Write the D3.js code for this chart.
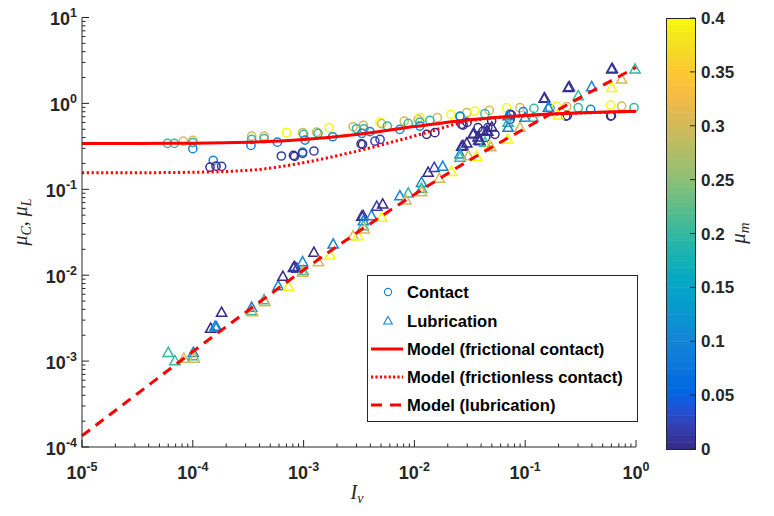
<!DOCTYPE html>
<html><head><meta charset="utf-8">
<script src="https://cdn.jsdelivr.net/npm/d3@7"></script>
<style>body{margin:0;background:#fff}svg{display:block}</style>
</head><body><svg id="c" width="774" height="516"></svg>
<script>
// ---------------- data ----------------
const contactIv = [5.9e-5,6.8e-5,8.2e-5,1.0e-4,1.0e-4,1.0e-4,1.53e-4,1.43e-4,1.62e-4,1.82e-4,
  3.4e-4,3.4e-4,3.35e-4,4.4e-4,4.4e-4,7.0e-4,5.8e-4,6.3e-4,8.1e-4,8.3e-4,
  9.8e-4,9.8e-4,1.24e-3,9.8e-4,1.0e-3,1.03e-3,1.31e-3,1.35e-3,1.7e-3,1.83e-3,
  2.8e-3,3.46e-3,3.0e-3,3.5e-3,3.35e-3,3.97e-3,3.4e-3,3.3e-3,4.4e-3,4.9e-3,
  4.9e-3,5.07e-3,5.7e-3,7.4e-3,8.1e-3,8.8e-3,1.08e-2,1.12e-2,1.12e-2,1.12e-2,
  1.29e-2,1.53e-2,1.61e-2,1.38e-2,2.14e-2,2.58e-2,2.97e-2,2.67e-2,2.75e-2,3.5e-2,
  4.74e-2,4.33e-2,2.99e-2,3.75e-2,4.16e-2,4.6e-2,4.98e-2,4.4e-2,6.8e-2,8.97e-2,
  0.12,9.6e-2,7.3e-2,7.5e-2,7.3e-2,0.1675,0.192,0.237,0.233,0.24,
  0.301,0.39,0.591,0.743,0.96,0.591,0.6,2.58e-2,5.33e-2];
const contactMu = [0.342,0.342,0.364,0.371,0.349,0.297,0.217,0.181,0.186,0.185,
  0.416,0.381,0.324,0.416,0.388,0.456,0.354,0.244,0.248,0.242,
  0.271,0.262,0.279,0.456,0.436,0.374,0.463,0.448,0.521,0.409,
  0.535,0.555,0.507,0.507,0.448,0.469,0.333,0.338,0.364,0.381,
  0.605,0.580,0.544,0.498,0.622,0.585,0.651,0.682,0.605,0.544,
  0.436,0.456,0.682,0.634,0.745,0.700,0.779,0.570,0.560,0.813,
  0.830,0.759,0.601,0.521,0.476,0.521,0.622,0.402,0.891,0.891,
  0.875,0.800,0.745,0.735,0.651,0.875,0.930,0.916,0.711,0.720,
  0.891,0.851,0.955,0.930,0.891,0.711,0.720,0.711,0.436];
const contactMum = [0.2,0.2,0.3,0.3,0.2,0.1,0.1,0,0,0.02,
  0.3,0.2,0.1,0.3,0.2,0.4,0.1,0.02,0,0.01,
  0.1,0.02,0.02,0.3,0.2,0.1,0.3,0.2,0.4,0.1,
  0.3,0.3,0.2,0.2,0.1,0.1,0,0.01,0.02,0.02,
  0.4,0.3,0.2,0.1,0.3,0.2,0.3,0.4,0.2,0.1,
  0,0,0.3,0.2,0.4,0.2,0.3,0,0.01,0.4,
  0.3,0.2,0,0,0,0.02,0,0,0.4,0.3,
  0.2,0.1,0,0.01,0,0.1,0.4,0.3,0,0.01,
  0.2,0.1,0.4,0.3,0.2,0,0.01,0.1,0];

const lubIv = [6.0e-5,6.9e-5,8.3e-5,1.01e-4,1.01e-4,1.03e-4,1.82e-4,1.45e-4,1.59e-4,1.64e-4,
  3.4e-4,3.4e-4,3.47e-4,4.4e-4,4.48e-4,5.9e-4,6.5e-4,7.3e-4,8.1e-4,8.3e-4,
  8.7e-4,9.8e-4,9.9e-4,9.8e-4,1.24e-3,1.36e-3,1.85e-3,1.73e-3,2.8e-3,3.1e-3,
  3.35e-3,3.45e-3,3.46e-3,3.46e-3,3.53e-3,4.1e-3,4.57e-3,5.18e-3,5.07e-3,7.4e-3,
  8.8e-3,8.4e-3,1.16e-2,1.16e-2,1.16e-2,1.33e-2,1.51e-2,1.8e-2,1.68e-2,2.17e-2,
  2.67e-2,2.75e-2,2.97e-2,2.58e-2,2.58e-2,3.07e-2,3.65e-2,3.9e-2,3.8e-2,4.33e-2,
  4.8e-2,4.5e-2,4.6e-2,3.38e-2,3.45e-2,4.9e-2,7.0e-2,7.0e-2,7.0e-2,6.95e-2,
  8.97e-2,9.95e-2,0.118,0.148,0.15,0.1616,0.199,0.245,0.25,0.301,
  0.398,0.603,0.61,0.603,0.743,0.98,3.75e-2,5.0e-2];
const lubMu = [1.25e-3,1.0e-3,1.07e-3,1.25e-3,1.14e-3,1.07e-3,3.66e-3,2.38e-3,2.51e-3,2.46e-3,
  4.19e-3,3.82e-3,3.72e-3,5.13e-3,4.86e-3,7.46e-3,9.6e-3,7.35e-3,1.22e-2,1.25e-2,
  1.19e-2,1.42e-2,1.12e-2,1.07e-2,1.83e-2,1.42e-2,2.28e-2,1.7e-2,2.85e-2,2.85e-2,
  4.8e-2,4.9e-2,4.26e-2,3.73e-2,3.41e-2,4.88e-2,6.27e-2,6.67e-2,4.67e-2,8.33e-2,
  8.96e-2,7.43e-2,0.119,0.1016,0.0928,0.156,0.178,0.183,0.133,0.159,
  0.313,0.320,0.342,0.255,0.233,0.243,0.240,0.364,0.370,0.349,
  0.318,0.476,0.470,0.436,0.445,0.310,0.711,0.596,0.521,0.381,
  0.521,0.682,0.682,1.135,1.15,0.891,0.725,1.52,1.55,1.216,
  1.55,2.49,2.53,1.52,1.90,2.49,0.402,0.526];
const lubMum = [0.2,0.2,0.3,0.1,0.2,0.3,0,0,0.1,0.1,
  0.1,0.2,0.3,0.2,0.3,0.1,0,0.4,0,0.01,
  0.02,0.1,0.2,0.3,0,0.3,0.1,0.4,0.3,0.4,
  0,0.01,0.1,0.2,0.3,0.1,0.02,0,0.4,0.1,
  0.2,0.3,0.1,0.2,0.3,0,0.02,0.1,0.3,0.4,
  0,0.01,0,0.1,0.2,0.3,0.4,0,0.01,0.2,
  0.4,0,0.01,0,0.01,0.3,0.1,0.2,0.1,0.4,
  0.3,0.1,0.2,0,0.01,0.1,0.4,0,0.01,0.2,
  0.1,0,0.01,0.4,0.3,0.2,0,0];

const modelIv = [1e-5,3.16e-5,1e-4,3.16e-4,1e-3,3.16e-3,1e-2,3.16e-2,0.1,0.316,1];
const modelFrictional   = [0.342,0.342,0.344,0.353,0.380,0.437,0.537,0.646,0.724,0.776,0.810];
const modelFrictionless = [0.156,0.156,0.158,0.166,0.204,0.282,0.417,0.625,0.716,0.772,0.808];
const modelLubrication  = [1.35e-4,4.17e-4,1.29e-3,3.89e-3,1.15e-2,3.24e-2,8.71e-2,0.219,0.513,1.175,2.63];

const xTickExp = [-5,-4,-3,-2,-1,0];
const yTickExp = [-4,-3,-2,-1,0,1];
const cbTicks = [0,0.05,0.1,0.15,0.2,0.25,0.3,0.35,0.4];
const cbTickLabels = ["0","0.05","0.1","0.15","0.2","0.25","0.3","0.35","0.4"];
const legendLabels = ["Contact","Lubrication","Model (frictional contact)","Model (frictionless contact)","Model (lubrication)"];

// parula colormap anchors (index out of 63)
const parulaIdx = [0,3,6,8,10,13,16,19,22,25,28,31,34,37,40,43,46,49,52,55,58,61,63];
const parulaHex = ["#352a87","#353dad","#2053d4","#0363e1","#046de0","#1079da","#1485d4","#0c93d2","#06a0cd","#07a9c2","#15b1b4","#2eb7a4","#4dbc92","#71bf80","#92bf73","#aebe67","#c8bc5d","#e1b952","#f8bb44","#fec832","#f7d826","#f5eb18","#f9fb0e"];
const parula = d3.scaleLinear().domain(parulaIdx.map(i=>i/63)).range(parulaHex).interpolate(d3.interpolateRgb).clamp(true);

// ---------------- chart ----------------
const svg = d3.select("#c");
const FONT = "'Liberation Sans', Arial, Helvetica, sans-serif";
const SERIF = "'Liberation Serif', 'Times New Roman', serif";
const axisColor = "#262626";
const x = d3.scaleLog().domain([1e-5,1]).range([82,636]);
const y = d3.scaleLog().domain([1e-4,10]).range([447,17.5]);
const cmax = 0.4;
const col = v => parula(v/cmax);

// markers
const triPath = "M0,-5.6L5.1,3.6L-5.1,3.6Z";
const gPts = svg.append("g");
contactIv.forEach((iv,i)=>{
  gPts.append("circle").attr("cx",x(iv)).attr("cy",y(contactMu[i])).attr("r",4.1)
    .attr("fill","none").attr("stroke",col(contactMum[i])).attr("stroke-width",1.5);
});
lubIv.forEach((iv,i)=>{
  gPts.append("path").attr("d",triPath).attr("transform",`translate(${x(iv)},${y(lubMu[i])})`)
    .attr("fill","none").attr("stroke",col(lubMum[i])).attr("stroke-width",1.5).attr("stroke-linejoin","miter");
});

// model lines
const line = d3.line().x(d=>x(d[0])).y(d=>y(d[1])).curve(d3.curveMonotoneX);
const red = "#ff0000";
svg.append("path").attr("d",line(modelIv.map((v,i)=>[v,modelFrictional[i]])))
  .attr("fill","none").attr("stroke",red).attr("stroke-width",3);
svg.append("path").attr("d",line(modelIv.map((v,i)=>[v,modelFrictionless[i]])))
  .attr("fill","none").attr("stroke",red).attr("stroke-width",3).attr("stroke-dasharray","2.2,2.6");
svg.append("path").attr("d",line(modelIv.map((v,i)=>[v,modelLubrication[i]])))
  .attr("fill","none").attr("stroke",red).attr("stroke-width",3).attr("stroke-dasharray","10,7");

// axes
const gAx = svg.append("g").attr("stroke",axisColor).attr("stroke-width",1);
gAx.append("line").attr("x1",82).attr("x2",82).attr("y1",y.range()[1]).attr("y2",447.5);
gAx.append("line").attr("x1",81.5).attr("x2",636).attr("y1",447).attr("y2",447);
for (let e=-5;e<=0;e++){
  gAx.append("line").attr("x1",x(10**e)).attr("x2",x(10**e)).attr("y1",447).attr("y2",440);
  if (e<0) for (let m=2;m<=9;m++){
    const xx = x(m*10**e);
    gAx.append("line").attr("x1",xx).attr("x2",xx).attr("y1",447).attr("y2",443.5);
  }
}
for (let e=-4;e<=1;e++){
  gAx.append("line").attr("x1",82).attr("x2",89).attr("y1",y(10**e)).attr("y2",y(10**e));
  if (e<1) for (let m=2;m<=9;m++){
    const yy = y(m*10**e);
    gAx.append("line").attr("x1",82).attr("x2",85.5).attr("y1",yy).attr("y2",yy);
  }
}
function powLabel(g, xx, yy, exp, anchor){
  const t = g.append("text").attr("x",xx).attr("y",yy).attr("text-anchor",anchor)
    .attr("font-family",FONT).attr("font-weight","bold").attr("font-size",18).attr("fill",axisColor);
  t.append("tspan").text("10");
  t.append("tspan").attr("dy",-8).attr("font-size",12.5).text(String(exp));
}
const gLab = svg.append("g");
xTickExp.forEach(e=>powLabel(gLab, x(10**e), 479, e, "middle"));
yTickExp.forEach(e=>powLabel(gLab, 77, y(10**e)+7.5, e, "end"));

// axis labels
const xl = svg.append("text").attr("x",357).attr("y",499).attr("text-anchor","middle")
  .attr("font-family",SERIF).attr("font-style","italic").attr("font-size",20).attr("fill",axisColor);
xl.append("tspan").text("I");
xl.append("tspan").attr("dy",4).attr("font-size",14).text("v");

const yl = svg.append("text").attr("transform","translate(27,222) rotate(-90)").attr("text-anchor","middle")
  .attr("font-family",SERIF).attr("font-size",20).attr("fill",axisColor);
yl.append("tspan").attr("font-style","italic").text("μ");
yl.append("tspan").attr("font-style","italic").attr("dy",4).attr("font-size",14).text("C");
yl.append("tspan").attr("dy",-4).text(", ");
yl.append("tspan").attr("font-style","italic").text("μ");
yl.append("tspan").attr("font-style","italic").attr("dy",4).attr("font-size",14).text("L");

// legend
const lg = svg.append("g");
lg.append("rect").attr("x",367.5).attr("y",275.5).attr("width",270).attr("height",146)
  .attr("fill","#fff").attr("stroke",axisColor).attr("stroke-width",1);
const legY = [292,321,349,377,405];
const legBlue = col(0.1);
lg.append("circle").attr("cx",388).attr("cy",legY[0]).attr("r",3.6).attr("fill","none").attr("stroke",legBlue).attr("stroke-width",1.1);
lg.append("path").attr("d","M0,-4.6L4.3,3L-4.3,3Z").attr("transform",`translate(388,${legY[1]})`).attr("fill","none").attr("stroke",legBlue).attr("stroke-width",1.1);
const dashes = [null,"2.2,2.2","11,8"];
[2,3,4].forEach((k,j)=>{
  lg.append("line").attr("x1",371).attr("x2",403).attr("y1",legY[k]).attr("y2",legY[k])
    .attr("stroke",red).attr("stroke-width",3).attr("stroke-dasharray",dashes[j]);
});
legendLabels.forEach((s,i)=>{
  lg.append("text").attr("x",407).attr("y",legY[i]+6).attr("font-family",FONT).attr("font-weight","bold")
    .attr("font-size",16.6).attr("fill","#000").text(s);
});

// colorbar
const cb = d3.scaleLinear().domain([0,cmax]).range([449,18]);
const cbX = 666, cbW = 29, nBands = 64;
const gcb = svg.append("g");
d3.range(nBands).forEach(i=>{
  const v0 = i/nBands*cmax, v1 = (i+1)/nBands*cmax;
  gcb.append("rect").attr("x",cbX).attr("y",cb(v1)).attr("width",cbW).attr("height",cb(v0)-cb(v1)+0.5)
    .attr("fill",parula((i+0.5)/nBands));
});
gcb.append("rect").attr("x",cbX+0.5).attr("y",18.5).attr("width",cbW).attr("height",cb(0)-cb(cmax)).attr("fill","none")
  .attr("stroke",axisColor).attr("stroke-width",1);
cbTicks.forEach((v,i)=>{
  gcb.append("line").attr("x1",cbX+cbW).attr("x2",cbX+cbW-5).attr("y1",cb(v)).attr("y2",cb(v)).attr("stroke",axisColor);
  gcb.append("text").attr("x",701).attr("y",cb(v)+6).attr("font-family",FONT).attr("font-weight","bold")
    .attr("font-size",17).attr("fill",axisColor).text(cbTickLabels[i]);
});
const cl = svg.append("text").attr("transform","translate(745,233) rotate(-90)").attr("text-anchor","middle")
  .attr("font-family",SERIF).attr("font-style","italic").attr("font-size",21).attr("fill",axisColor);
cl.append("tspan").text("μ");
cl.append("tspan").attr("dy",4).attr("font-size",15).text("m");
</script>
</body></html>
